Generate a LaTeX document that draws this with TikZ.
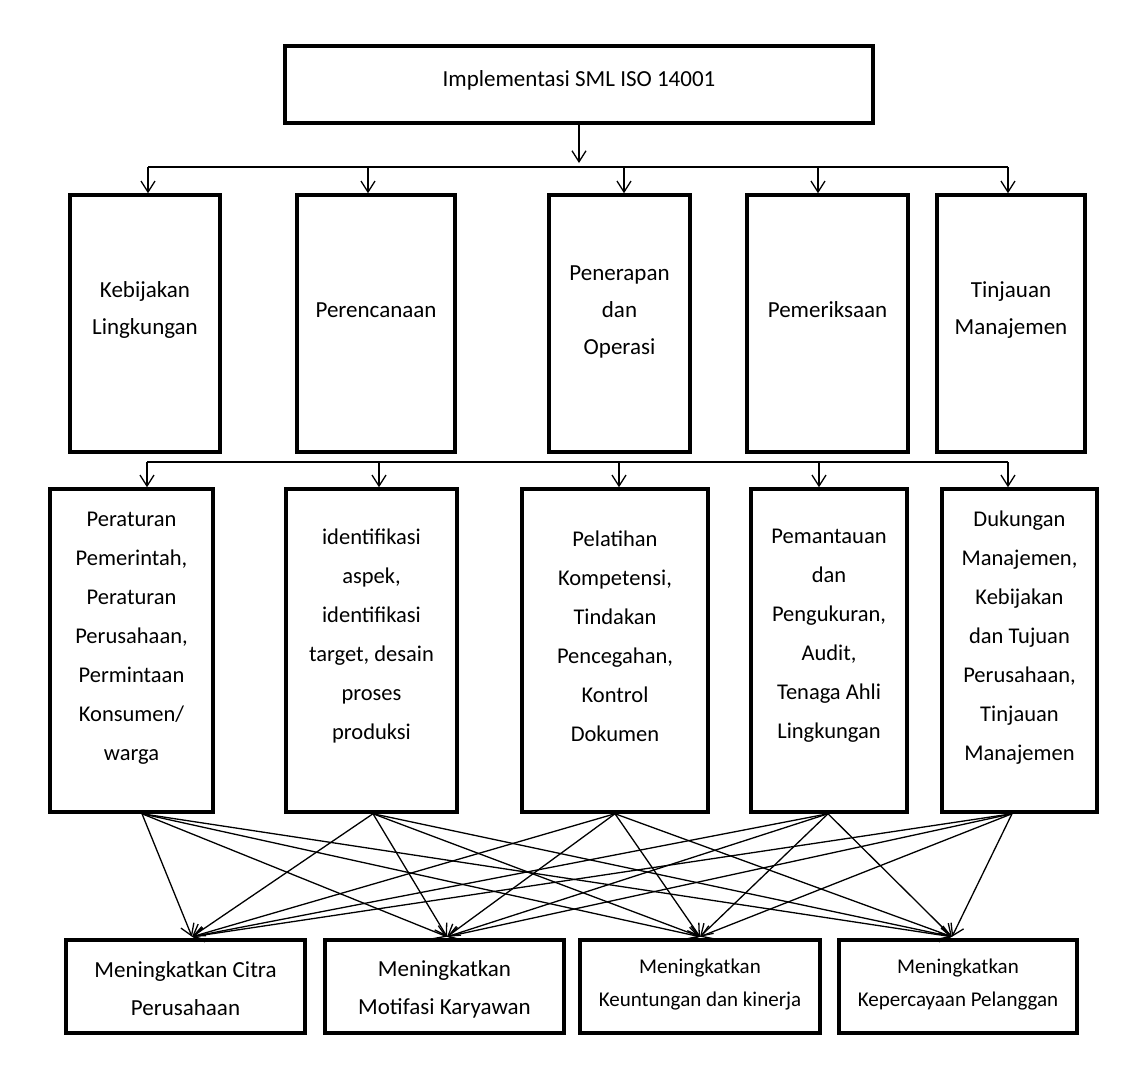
\documentclass[tikz,border=0pt]{standalone}
\usepackage{fontspec}
\setmainfont{Carlito}
\usetikzlibrary{arrows.meta,calc}
\begin{document}
\begin{tikzpicture}[x=1pt,y=-1pt,
  box/.style={draw, line width=3.5pt, inner sep=0pt},
  conn/.style={line width=1.3pt, -{Straight Barb[length=11pt,width=14pt,line width=1.3pt]}},
  busline/.style={line width=1.3pt},
  txtA/.style={align=center, inner sep=0pt, font=\fontsize{23}{37}\selectfont},
  txtB/.style={align=center, inner sep=0pt, font=\fontsize{22.5}{39}\selectfont},
  txtC/.style={align=center, inner sep=0pt, font=\fontsize{23}{38}\selectfont},
  txtD/.style={align=center, inner sep=0pt, font=\fontsize{21}{33}\selectfont}
]
\useasboundingbox (0,0) rectangle (1144,1081);

% top box
\node[box, minimum width=588, minimum height=77] (top) at (579,84.5) {};
\node[txtA] (ttop) at (579,80) {Implementasi SML ISO 14001};

% row 2
\node[box, minimum width=150, minimum height=257] (K) at (145,323.5) {};
\node[box, minimum width=158, minimum height=257] (P) at (376,323.5) {};
\node[box, minimum width=141, minimum height=257] (O) at (619.5,323.5) {};
\node[box, minimum width=161, minimum height=257] (Pm) at (827.5,323.5) {};
\node[box, minimum width=148, minimum height=257] (T) at (1011,323.5) {};
\node[txtA] (tK) at (145,310) {Kebijakan\\Lingkungan};
\node[txtA] (tP) at (376,310) {Perencanaan};
\node[txtA] (tO) at (619.5,312) {Penerapan\\dan\\Operasi};
\node[txtA] (tPm) at (827.5,310) {Pemeriksaan};
\node[txtA] (tT) at (1011,310) {Tinjauan\\Manajemen};

% row 3
\node[box, minimum width=163, minimum height=323] (A) at (131.5,650.5) {};
\node[box, minimum width=171, minimum height=323] (B) at (371.5,650.5) {};
\node[box, minimum width=186, minimum height=323] (C) at (615,650.5) {};
\node[box, minimum width=156, minimum height=323] (D) at (829,650.5) {};
\node[box, minimum width=155, minimum height=323] (E) at (1019.5,650.5) {};
\node[txtB] (tA) at (131.5,638) {Peraturan\\Pemerintah,\\Peraturan\\Perusahaan,\\Permintaan\\Konsumen/\\warga};
\node[txtB] (tB) at (371.5,636) {identifikasi\\aspek,\\identifikasi\\target, desain\\proses\\produksi};
\node[txtB] (tC) at (615,636) {Pelatihan\\Kompetensi,\\Tindakan\\Pencegahan,\\Kontrol\\Dokumen};
\node[txtB] (tD) at (829,636) {Pemantauan\\dan\\Pengukuran,\\Audit,\\Tenaga Ahli\\Lingkungan};
\node[txtB] (tE) at (1019.5,638) {Dukungan\\Manajemen,\\Kebijakan\\dan Tujuan\\Perusahaan,\\Tinjauan\\Manajemen};

% bottom row
\node[box, minimum width=239, minimum height=93] (M1) at (185.5,986.5) {};
\node[box, minimum width=239, minimum height=93] (M2) at (444.5,986.5) {};
\node[box, minimum width=240, minimum height=93] (M3) at (700,986.5) {};
\node[box, minimum width=238, minimum height=93] (M4) at (958,986.5) {};
\node[txtC] (tM1) at (185.5,989) {Meningkatkan Citra\\Perusahaan};
\node[txtC] (tM2) at (444.5,989) {Meningkatkan\\Motifasi Karyawan};
\node[txtD] (tM3) at (700,985) {Meningkatkan\\Keuntungan dan kinerja};
\node[txtD] (tM4) at (958,985) {Meningkatkan\\Kepercayaan Pelanggan};

% top arrow and first bus
\coordinate (c0) at (579,163);
\draw[conn] (top.south) -- (c0);
\coordinate (b1L) at (148,167);
\coordinate (b1R) at (1008,167);
\draw[busline] (b1L) -- (b1R);
\foreach \x/\n in {148/K,368/P,624/O,818/Pm,1008/T}{
  \coordinate (d1\n) at (\x,167);
  \draw[conn] (d1\n) -- (d1\n |- \n.north);
}

% second bus
\coordinate (b2L) at (147,462);
\coordinate (b2R) at (1008,462);
\draw[busline] (b2L) -- (b2R);
\foreach \x/\n in {147/A,379/B,619/C,819/D,1008/E}{
  \coordinate (d2\n) at (\x,462);
  \draw[conn] (d2\n) -- (d2\n |- \n.north);
}

% crossing connectors
\coordinate (sA) at ($(A.south)+(10.5,0)$);
\coordinate (sB) at ($(B.south)+(1.5,0)$);
\coordinate (sC) at ($(C.south)+(0,0)$);
\coordinate (sD) at ($(D.south)+(-1,0)$);
\coordinate (sE) at ($(E.south)+(-7.5,0)$);
\coordinate (e1) at ($(M1.north)+(6.5,-1.5)$);
\coordinate (e2) at ($(M2.north)+(2.5,-1.5)$);
\coordinate (e3) at ($(M3.north)+(0,-1.5)$);
\coordinate (e4) at ($(M4.north)+(-6,-1.5)$);
\foreach \s in {sA,sB,sC,sD,sE}{
  \foreach \e in {e1,e2,e3,e4}{
    \draw[conn] (\s) -- (\e);
  }
}
\end{tikzpicture}
\end{document}
